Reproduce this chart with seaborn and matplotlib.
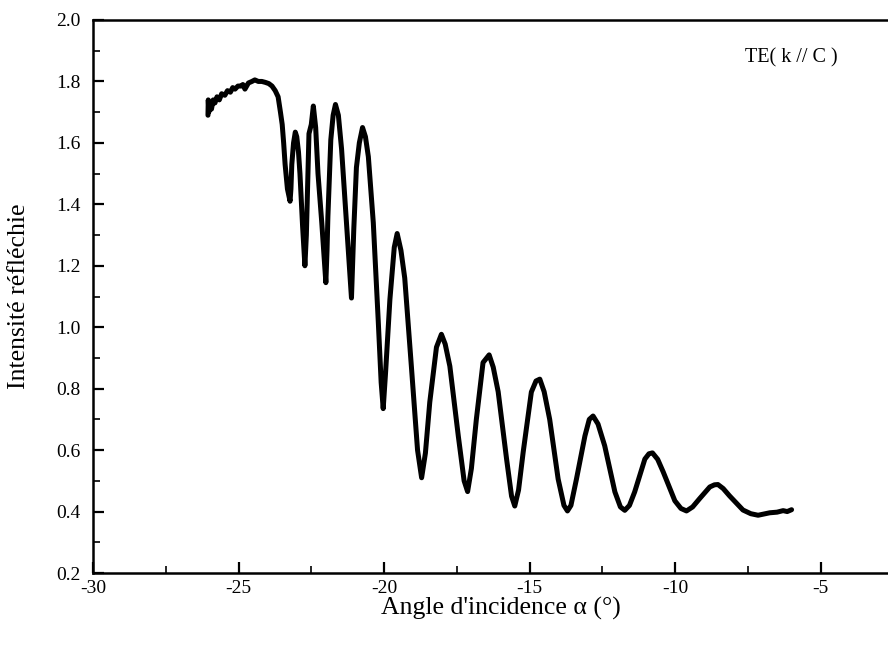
import matplotlib
matplotlib.use("Agg")
import matplotlib.pyplot as plt
import seaborn as sns
import pandas as pd
from matplotlib.ticker import MultipleLocator, FormatStrFormatter

angle = [
    -26.05, -26.04, -26.02, -25.98, -25.93, -25.87, -25.81, -25.74, -25.66, -25.58,
    -25.47, -25.38, -25.28, -25.20, -25.12, -25.02, -24.92, -24.85, -24.78, -24.66,
    -24.54, -24.44, -24.32, -24.20, -24.08, -23.96, -23.85, -23.74, -23.64, -23.56,
    -23.50, -23.45, -23.40, -23.32, -23.23, -23.20, -23.17, -23.11, -23.05, -23.00,
    -22.94, -22.89, -22.80, -22.72, -22.67, -22.63, -22.58, -22.50, -22.43, -22.35,
    -22.27, -22.14, -22.00, -21.96, -21.93, -21.83, -21.75, -21.67, -21.57, -21.46,
    -21.29, -21.12, -21.04, -20.95, -20.85, -20.74, -20.64, -20.54, -20.37, -20.20,
    -20.10, -20.03, -19.95, -19.80, -19.65, -19.55, -19.42, -19.29, -19.06, -18.85,
    -18.71, -18.58, -18.43, -18.20, -18.03, -17.90, -17.74, -17.45, -17.25, -17.13,
    -17.00, -16.83, -16.60, -16.39, -16.25, -16.08, -15.79, -15.62, -15.51, -15.38,
    -15.22, -14.94, -14.78, -14.65, -14.50, -14.31, -14.02, -13.82, -13.70, -13.58,
    -13.39, -13.10, -12.95, -12.82, -12.65, -12.42, -12.07, -11.88, -11.73, -11.57,
    -11.39, -11.04, -10.90, -10.78, -10.60, -10.41, -10.01, -9.80, -9.61, -9.40,
    -9.16, -8.81, -8.65, -8.53, -8.35, -8.13, -7.67, -7.40, -7.15, -6.95,
    -6.75, -6.50, -6.29, -6.15, -6.00,
]
intensity = [
    1.69, 1.74, 1.70, 1.73, 1.71, 1.74, 1.73, 1.75, 1.74, 1.76,
    1.755, 1.77, 1.765, 1.78, 1.775, 1.785, 1.785, 1.79, 1.775, 1.795,
    1.80, 1.805, 1.80, 1.80, 1.797, 1.793, 1.785, 1.77, 1.75, 1.70,
    1.66, 1.60, 1.53, 1.45, 1.41, 1.45, 1.53, 1.60, 1.635, 1.62,
    1.57, 1.50, 1.33, 1.20, 1.30, 1.45, 1.63, 1.66, 1.72, 1.65,
    1.50, 1.34, 1.145, 1.25, 1.36, 1.61, 1.69, 1.725, 1.69, 1.58,
    1.34, 1.095, 1.32, 1.52, 1.60, 1.65, 1.62, 1.555, 1.34, 1.02,
    0.82, 0.735, 0.85, 1.09, 1.26, 1.305, 1.25, 1.16, 0.87, 0.60,
    0.51, 0.59, 0.756, 0.935, 0.977, 0.945, 0.873, 0.646, 0.50, 0.465,
    0.54, 0.70, 0.885, 0.91, 0.87, 0.79, 0.57, 0.45, 0.418, 0.47,
    0.594, 0.789, 0.825, 0.831, 0.79, 0.70, 0.506, 0.42, 0.402, 0.42,
    0.506, 0.646, 0.70, 0.711, 0.685, 0.614, 0.464, 0.415, 0.404, 0.42,
    0.464, 0.571, 0.588, 0.591, 0.57, 0.529, 0.435, 0.41, 0.402, 0.415,
    0.442, 0.48, 0.487, 0.488, 0.475, 0.451, 0.405, 0.393, 0.388, 0.392,
    0.396, 0.398, 0.403, 0.40, 0.406,
]

x_ticks = [-30, -25, -20, -15, -10, -5]
y_ticks = [0.2, 0.4, 0.6, 0.8, 1.0, 1.2, 1.4, 1.6, 1.8, 2.0]
x_label = "Angle d'incidence α (°)"
y_label = "Intensité réfléchie"
annotation = "TE( k // C )"

df = pd.DataFrame({"angle": angle, "intensity": intensity})

sns.set_theme(style="ticks")
plt.rcParams["font.family"] = ["Liberation Serif", "DejaVu Serif"]
plt.rcParams["axes.unicode_minus"] = False

fig = plt.figure(figsize=(8.88, 6.55), dpi=100)
ax = fig.add_axes([93 / 888, 82 / 655, 815 / 888, 553 / 655])

sns.lineplot(data=df, x="angle", y="intensity", ax=ax, sort=False, estimator=None,
             color="black", linewidth=3.6, solid_joinstyle="round", solid_capstyle="round")

ax.set_xlim(-30, -2)
ax.set_ylim(0.2, 2.0)
ax.set_xticks(x_ticks)
ax.set_yticks(y_ticks)
ax.xaxis.set_minor_locator(MultipleLocator(2.5))
ax.yaxis.set_minor_locator(MultipleLocator(0.1))
ax.yaxis.set_major_formatter(FormatStrFormatter("%.1f"))
ax.xaxis.set_major_formatter(FormatStrFormatter("%d"))

ax.tick_params(axis="both", which="major", direction="in", length=8, width=1.6,
               labelsize=14, colors="black")
ax.tick_params(axis="x", which="major", pad=5)
ax.tick_params(axis="y", which="major", pad=9)
ax.tick_params(axis="both", which="minor", direction="in", length=5, width=1.4)
ax.tick_params(axis="x", which="both", top=False)
ax.tick_params(axis="y", which="both", right=False)

for side in ["left", "bottom", "top"]:
    ax.spines[side].set_linewidth(1.8)
    ax.spines[side].set_color("black")
ax.spines["right"].set_visible(False)

ax.set_xlabel(x_label, fontsize=18.5, color="black")
ax.set_ylabel(y_label, fontsize=18.5, color="black")
ax.xaxis.set_label_coords(0.5, -0.043)
ax.yaxis.set_label_coords(-0.077, 0.5)

ax.text(-7.6, 1.877, annotation, fontsize=14.5, ha="left", va="center", color="black")

fig.savefig("out.png", dpi=100)
